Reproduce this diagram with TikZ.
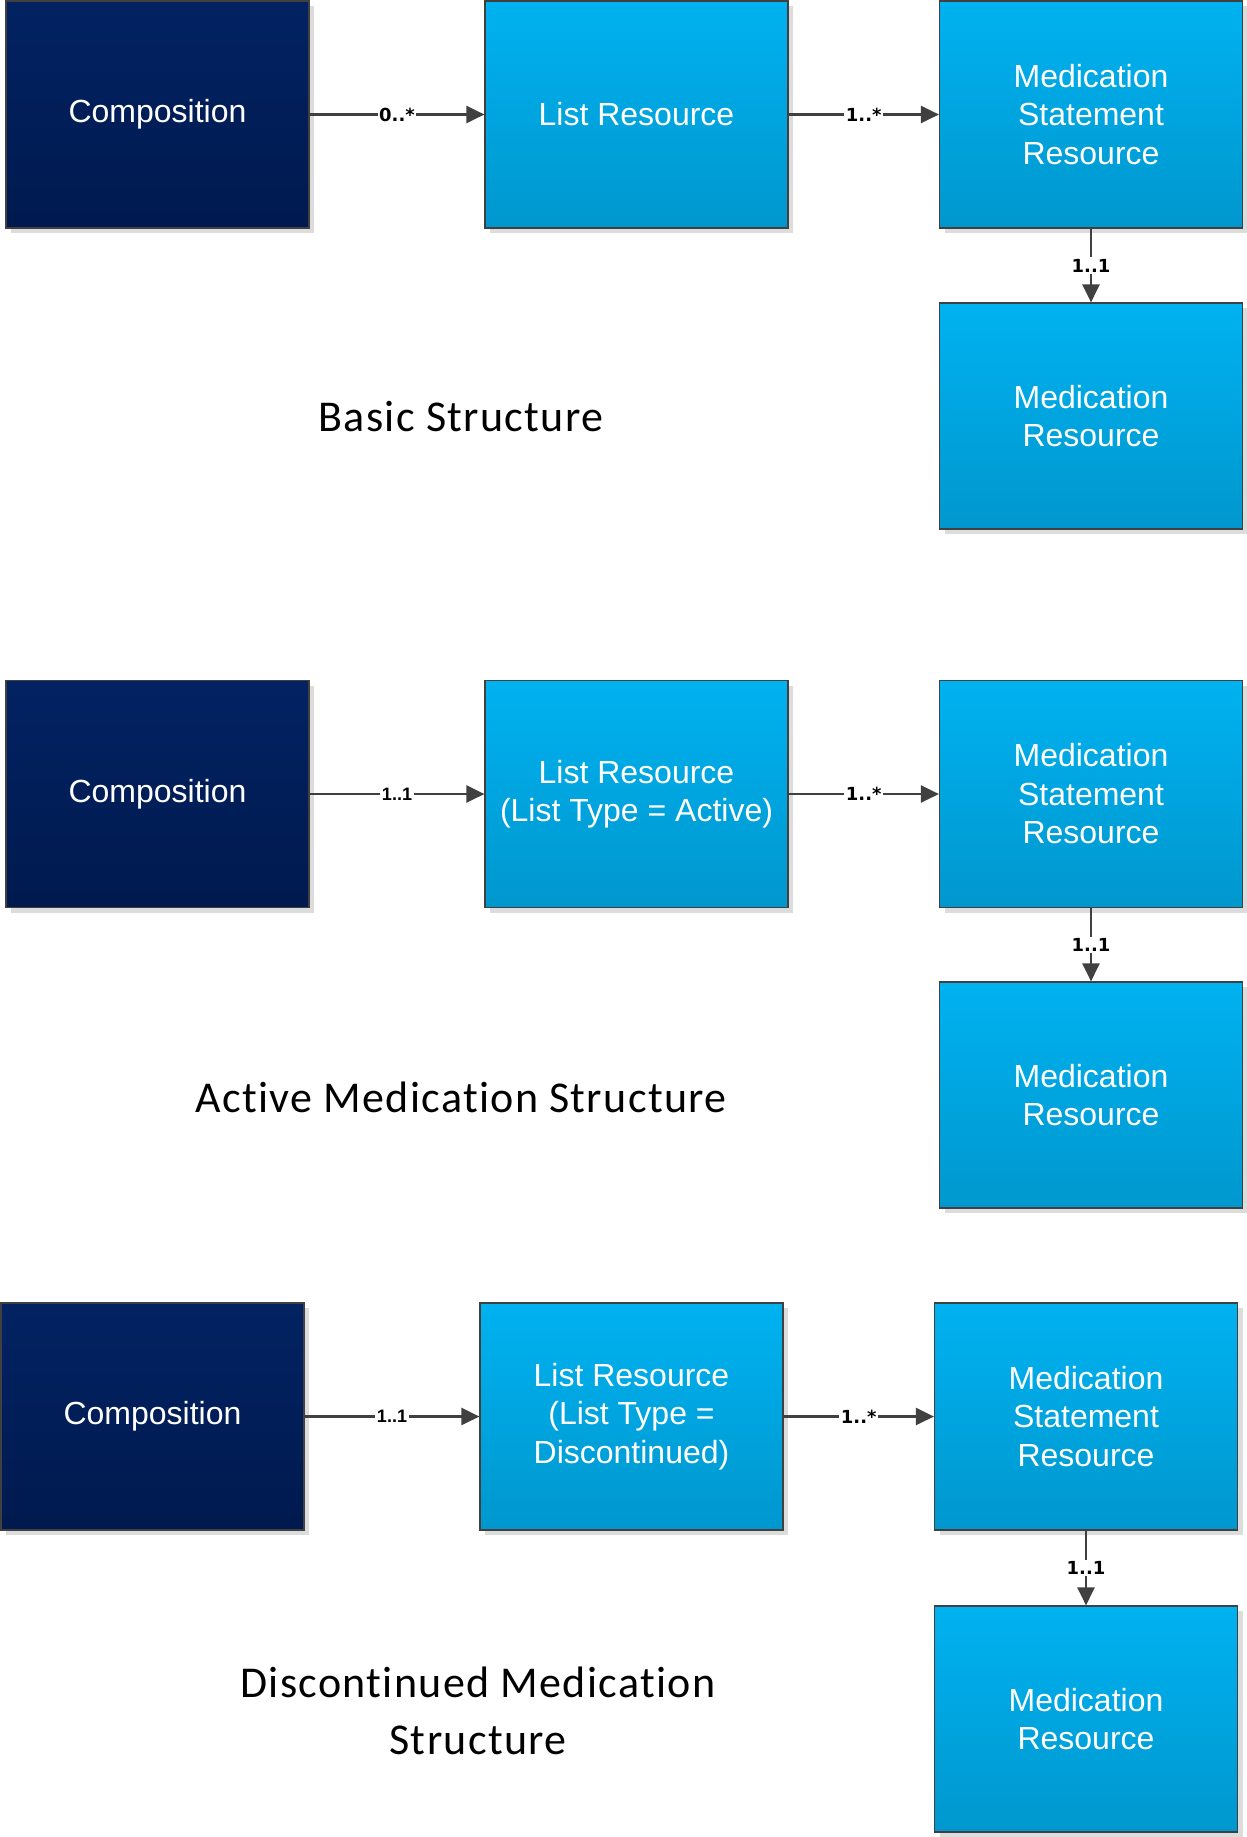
\documentclass[tikz,border=0pt]{standalone}
\usepackage{fontspec}
\usetikzlibrary{arrows.meta,shadows}
\newfontfamily\boxfont{Liberation Sans}
\newfontfamily\titlefont[LetterSpace=3,Ligatures={NoCommon,NoDiscretionary}]{Carlito}
\newfontfamily\lblfont{DejaVu Sans}
\definecolor{darkTop}{HTML}{022262}
\definecolor{darkBot}{HTML}{001A4F}
\definecolor{blueTop}{HTML}{00B2F0}
\definecolor{blueBot}{HTML}{0097CE}
\definecolor{edgegray}{HTML}{404040}
\definecolor{shadowgray}{HTML}{DCDCDC}
\tikzset{
  basebox/.style={rectangle, draw=edgegray, line width=1.2pt, minimum width=303pt, minimum height=227pt,
    text=white, align=center, font={\boxfont\fontsize{32}{38.5}\selectfont},
    drop shadow={shadow xshift=5pt, shadow yshift=-5pt, fill=shadowgray, opacity=1}},
  darkbox/.style={basebox, top color=darkTop, bottom color=darkBot},
  bluebox/.style={basebox, top color=blueTop, bottom color=blueBot},
  conn/.style={draw=edgegray, line width=2.4pt, -{Triangle[length=18pt,width=17pt]}},
  mult/.style={fill=white, inner sep=1.5pt, text=black, font={\lblfont\bfseries\fontsize{18}{20}\selectfont}},
  multplain/.style={fill=white, inner sep=1.5pt, text=black, font={\boxfont\bfseries\fontsize{18}{20}\selectfont}},
  titletext/.style={align=center, text=black, font={\titlefont\fontsize{44}{57}\selectfont}},
}
\begin{document}
\begin{tikzpicture}[x=1pt,y=-1pt]
\useasboundingbox (0,0) rectangle (1247,1837);
% Row 1
\node[darkbox] (c1) at (157.5,114.5) {Composition};
\node[bluebox] (l1) at (636.5,114.5) {List Resource};
\node[bluebox] (s1) at (1091,114.5) {Medication\\Statement\\Resource};
\node[bluebox, minimum height=226pt] (m1) at (1091,416) {Medication\\Resource};
\draw[conn] (c1) -- node[mult] {0..*} (l1);
\draw[conn] (l1) -- node[mult] {1..*} (s1);
\draw[conn] (s1) -- node[mult] {1..1} (m1);
\node[titletext] (t1) at (461,417) {Basic Structure};
% Row 2
\node[darkbox] (c2) at (157.5,794) {Composition};
\node[bluebox] (l2) at (636.5,794) {List Resource\\(List Type = Active)};
\node[bluebox] (s2) at (1091,794) {Medication\\Statement\\Resource};
\node[bluebox, minimum height=226pt] (m2) at (1091,1095) {Medication\\Resource};
\draw[conn] (c2) -- node[multplain] {1..1} (l2);
\draw[conn] (l2) -- node[mult] {1..*} (s2);
\draw[conn] (s2) -- node[mult] {1..1} (m2);
\node[titletext] (t2) at (461,1097) {Active Medication Structure};
% Row 3
\node[darkbox] (c3) at (152.5,1416.5) {Composition};
\node[bluebox] (l3) at (631.5,1416.5) {List Resource\\(List Type =\\Discontinued)};
\node[bluebox] (s3) at (1086,1416.5) {Medication\\Statement\\Resource};
\node[bluebox, minimum height=226pt] (m3) at (1086,1719) {Medication\\Resource};
\draw[conn] (c3) -- node[multplain] {1..1} (l3);
\draw[conn] (l3) -- node[mult] {1..*} (s3);
\draw[conn] (s3) -- node[mult] {1..1} (m3);
\node[titletext] (t3) at (478,1711) {Discontinued Medication\\Structure};
\end{tikzpicture}
\end{document}
